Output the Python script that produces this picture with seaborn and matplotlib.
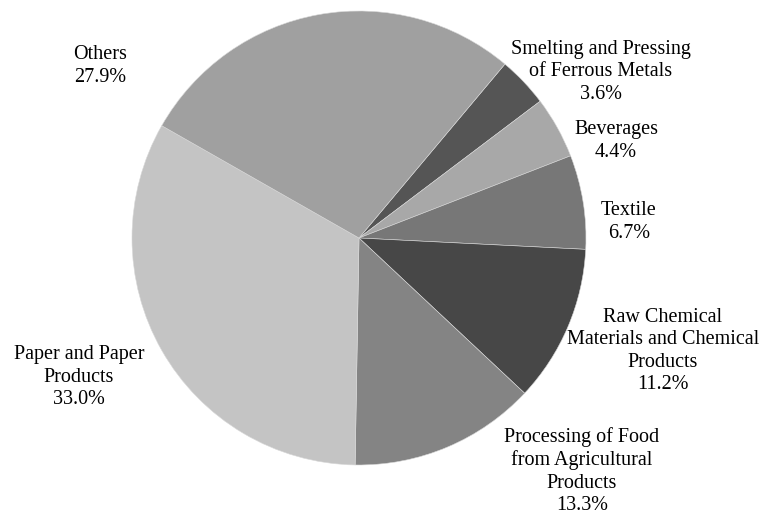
import matplotlib
matplotlib.use("Agg")
import matplotlib.pyplot as plt
import seaborn as sns

# Industry shares of the total (percent), in clockwise order from the top right
industries = [
    "Smelting and Pressing\nof Ferrous Metals",
    "Beverages",
    "Textile",
    "Raw Chemical\nMaterials and Chemical\nProducts",
    "Processing of Food\nfrom Agricultural\nProducts",
    "Paper and Paper\nProducts",
    "Others",
]
shares = [3.6, 4.4, 6.7, 11.2, 13.3, 33.0, 27.9]
greys = ["#555555", "#a8a8a8", "#777777", "#474747", "#848484", "#c4c4c4", "#a0a0a0"]

# Label centres in pixel coordinates of the figure (x from left, y from top)
label_px = [
    (601, 72),
    (616, 141),
    (629, 222),
    (663, 351),
    (582, 471),
    (79, 377),
    (100, 66),
]

sns.set_theme(style="white")
plt.rcParams["font.family"] = ["Liberation Serif", "DejaVu Serif"]

W, H = 765, 514
fig = plt.figure(figsize=(W / 100, H / 100), dpi=100)
cx, cy, r = 359, 238, 227
ax = fig.add_axes([(cx - r) / W, (H - cy - r) / H, 2 * r / W, 2 * r / H])

wedges, _ = ax.pie(
    shares,
    colors=greys,
    startangle=50.0,
    counterclock=False,
    radius=1.0,
    wedgeprops=dict(edgecolor="#d8d8d8", linewidth=0.4),
)
ax.set_xlim(-1, 1)
ax.set_ylim(-1, 1)
ax.set_aspect("equal")
ax.axis("off")

for name, val, (px, py) in zip(industries, shares, label_px):
    ax.text(
        (px - cx) / r,
        (cy - py) / r,
        f"{name}\n{val:.1f}%",
        ha="center",
        va="center",
        fontsize=14.5,
        color="black",
        clip_on=False,
        linespacing=1.25,
    )

fig.savefig("out.png", dpi=100, facecolor="white")
